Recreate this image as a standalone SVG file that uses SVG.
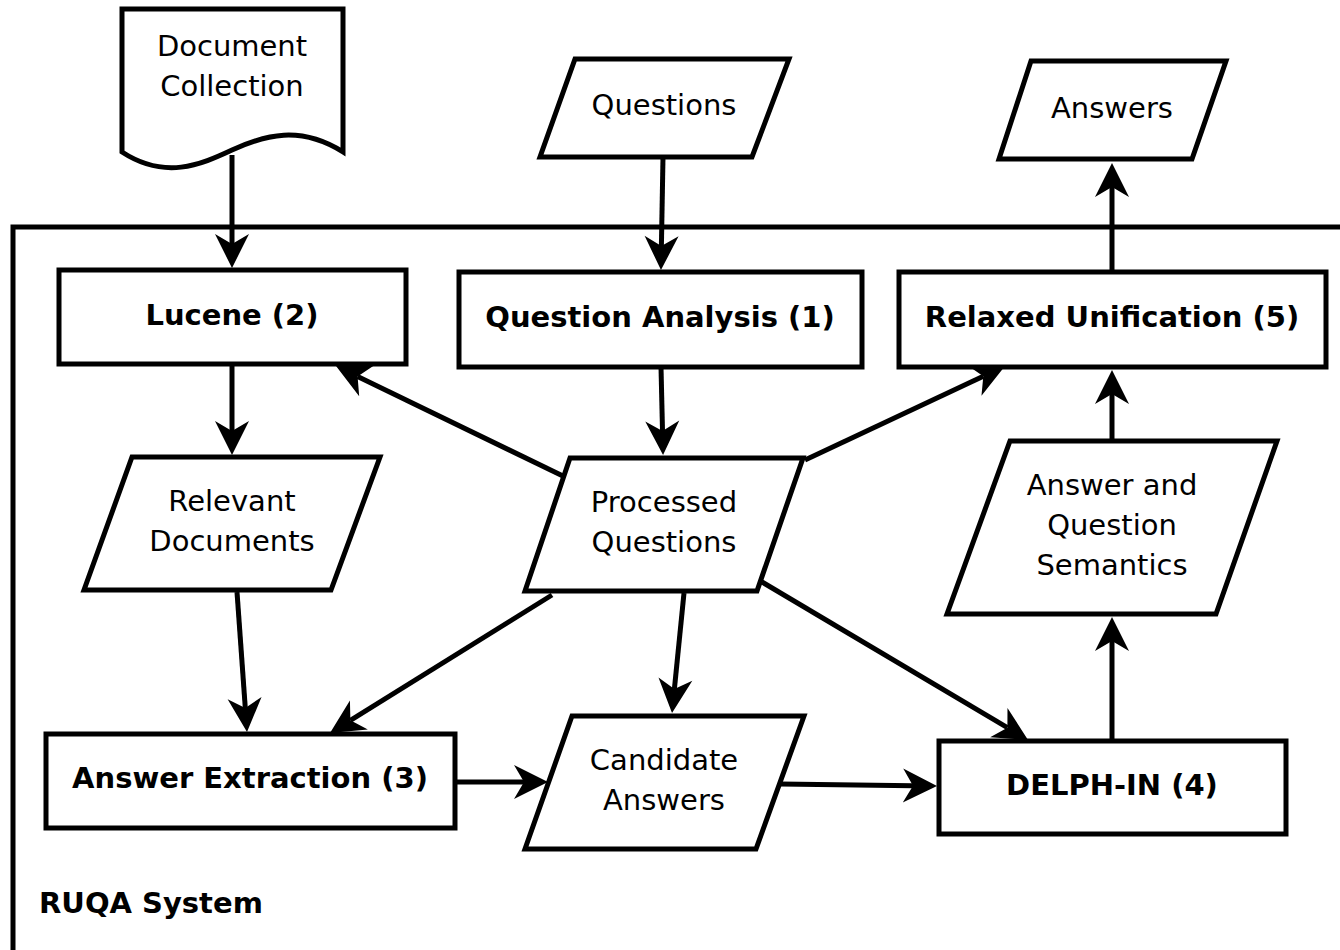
<svg xmlns="http://www.w3.org/2000/svg" width="1340" height="950" viewBox="0 0 1340 950">
  <style>
    .shape { fill: #fff; stroke: #000; stroke-width: 5; stroke-linejoin: miter; }
    .frame { fill: none; stroke: #000; stroke-width: 5; }
    .lbl { font-family: "DejaVu Sans", "Liberation Sans", sans-serif; font-size: 29px; text-anchor: middle; fill: #000; }
    .bold { font-weight: bold; }
    .conn line { stroke: #000; stroke-width: 5; marker-end: url(#head); }
  </style>
  <defs>
    <!-- notched arrowhead; reference point is the notch, tip sits 24px ahead -->
    <marker id="head" markerUnits="userSpaceOnUse" viewBox="-10 -17 34 34" refX="0" refY="0" markerWidth="34" markerHeight="34" orient="auto" overflow="visible">
      <path d="M-10,-17 L24,0 L-10,17 L0,0 Z" fill="#000"/>
    </marker>
  </defs>
  <rect width="1340" height="950" fill="#fff"/>

  <!-- system boundary -->
  <g id="system">
    <path class="frame" d="M13,952 L13,227 L1345,227"/>
    <text class="lbl bold" x="39" y="913" style="text-anchor:start">RUQA System</text>
  </g>

  <!-- external inputs / outputs -->
  <g id="doc-collection">
    <path class="shape" d="M122,9 L343,9 L343,152 C300,125 265,135 232,150 C200,165 165,180 122,152 Z"/>
    <text class="lbl" x="232" y="56">Document</text>
    <text class="lbl" x="232" y="96">Collection</text>
  </g>
  <g id="questions">
    <polygon class="shape" points="575,59 789,59 752,157 540,157"/>
    <text class="lbl" x="664" y="115">Questions</text>
  </g>
  <g id="answers">
    <polygon class="shape" points="1031,61 1226,61 1192,159 999,159"/>
    <text class="lbl" x="1112" y="118">Answers</text>
  </g>

  <!-- processing modules -->
  <g id="lucene">
    <rect class="shape" x="59" y="270" width="347" height="94"/>
    <text class="lbl bold" x="232" y="325">Lucene (2)</text>
  </g>
  <g id="question-analysis">
    <rect class="shape" x="459" y="272" width="403" height="95"/>
    <text class="lbl bold" x="660" y="327">Question Analysis (1)</text>
  </g>
  <g id="relaxed-unification">
    <rect class="shape" x="899" y="272" width="427" height="95"/>
    <text class="lbl bold" x="1112" y="327">Relaxed Unification (5)</text>
  </g>
  <g id="answer-extraction">
    <rect class="shape" x="46" y="734" width="409" height="94"/>
    <text class="lbl bold" x="250" y="788">Answer Extraction (3)</text>
  </g>
  <g id="delph-in">
    <rect class="shape" x="939" y="741" width="347" height="93"/>
    <text class="lbl bold" x="1112" y="795">DELPH-IN (4)</text>
  </g>

  <!-- intermediate data -->
  <g id="relevant-documents">
    <polygon class="shape" points="132,457 380,457 331,590 84,590"/>
    <text class="lbl" x="232" y="511">Relevant</text>
    <text class="lbl" x="232" y="551">Documents</text>
  </g>
  <g id="processed-questions">
    <polygon class="shape" points="570,458 803,458 757,591 525,591"/>
    <text class="lbl" x="664" y="512">Processed</text>
    <text class="lbl" x="664" y="552">Questions</text>
  </g>
  <g id="aq-semantics">
    <polygon class="shape" points="1010,441 1277,441 1216,614 947,614"/>
    <text class="lbl" x="1112" y="495">Answer and</text>
    <text class="lbl" x="1112" y="535">Question</text>
    <text class="lbl" x="1112" y="575">Semantics</text>
  </g>
  <g id="candidate-answers">
    <polygon class="shape" points="572,716 804,716 756,849 525,849"/>
    <text class="lbl" x="664" y="770">Candidate</text>
    <text class="lbl" x="664" y="810">Answers</text>
  </g>

  <!-- connectors -->
  <g id="connectors" class="conn">
    <line x1="232" y1="155" x2="232" y2="244"/>
    <line x1="663" y1="157" x2="661.4" y2="246"/>
    <line x1="1112" y1="272" x2="1112" y2="187"/>
    <line x1="232" y1="364" x2="232" y2="431"/>
    <line x1="661" y1="367" x2="662.5" y2="431"/>
    <line x1="565" y1="477" x2="357.6" y2="376.5"/>
    <line x1="805" y1="460" x2="983.3" y2="376.2"/>
    <line x1="1112" y1="441" x2="1112" y2="394"/>
    <line x1="1112" y1="741" x2="1112" y2="641"/>
    <line x1="237" y1="592" x2="245.3" y2="708.1"/>
    <line x1="552" y1="595" x2="350.4" y2="720.3"/>
    <line x1="684" y1="593" x2="674.4" y2="689.1"/>
    <line x1="762" y1="582" x2="1007.4" y2="727.7"/>
    <line x1="455" y1="782" x2="524" y2="782"/>
    <line x1="780" y1="784" x2="913" y2="785.7"/>
  </g>
</svg>
